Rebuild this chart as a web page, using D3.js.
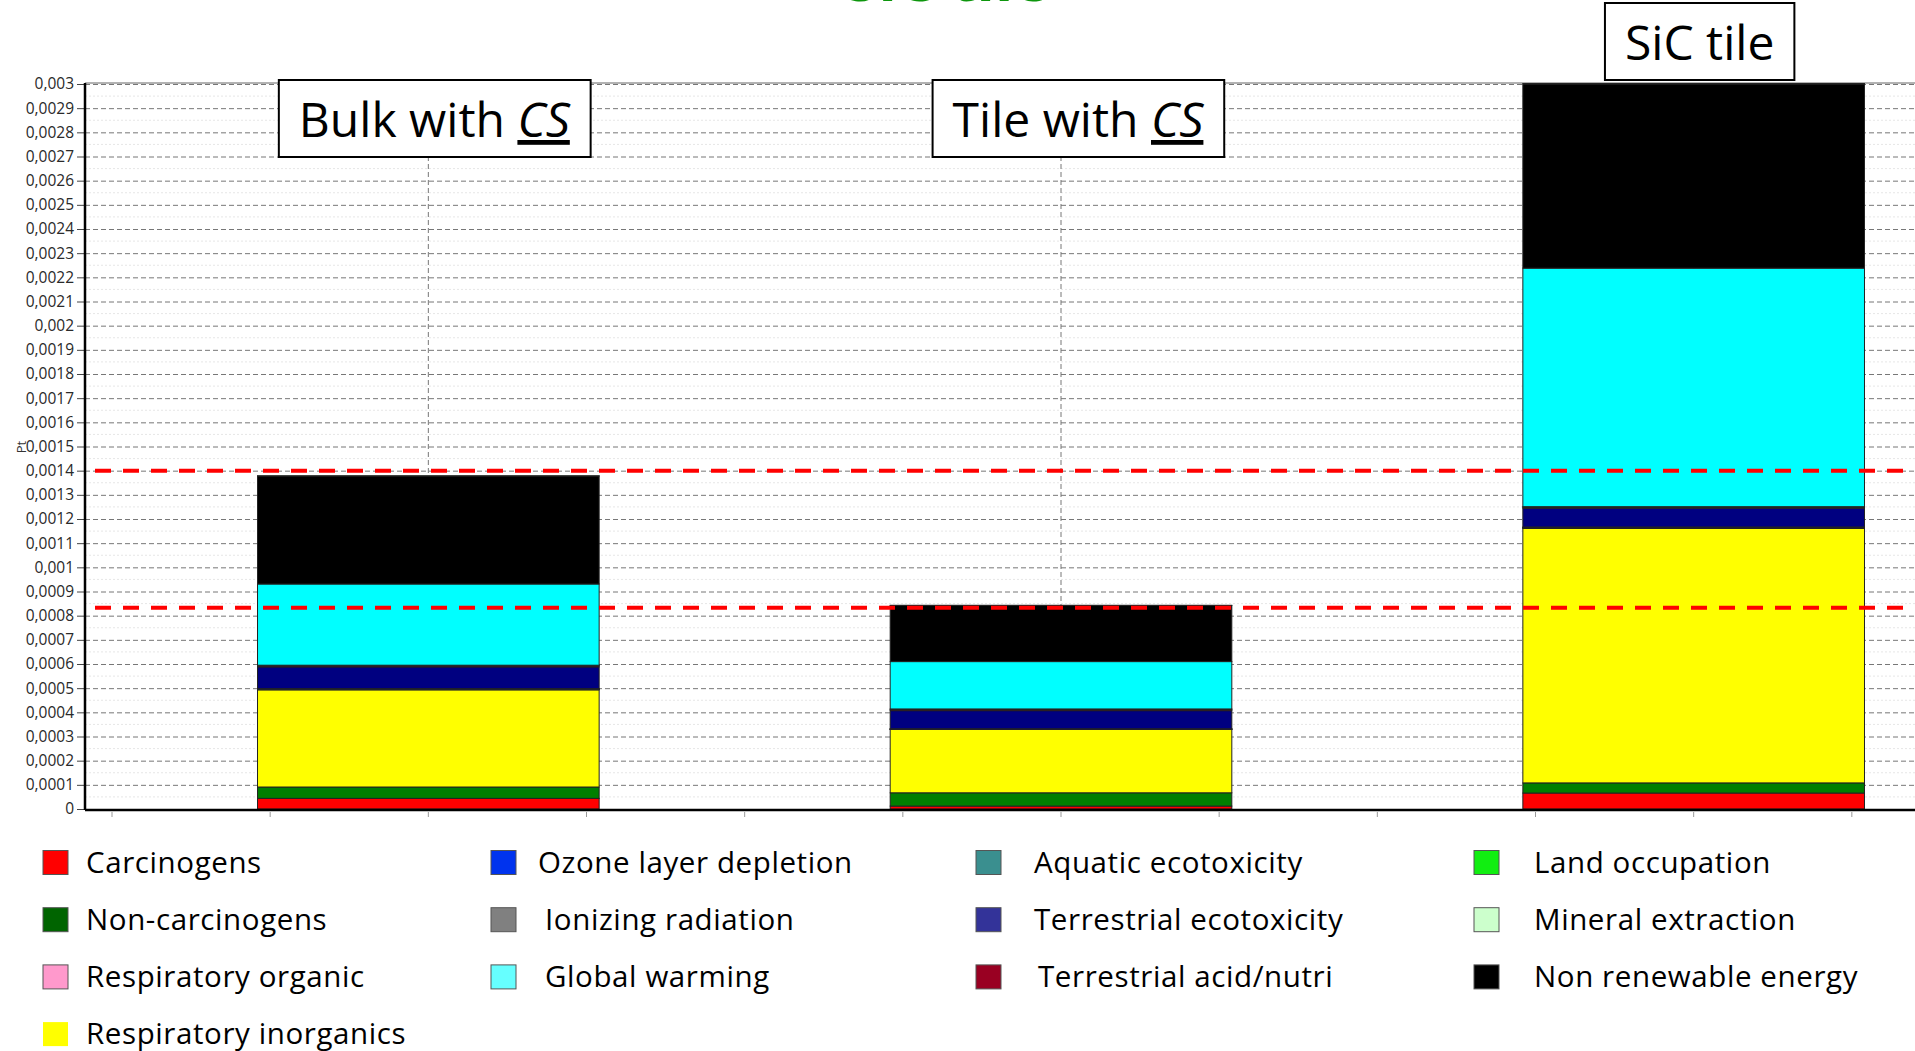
<!DOCTYPE html>
<html>
<head>
<meta charset="utf-8">
<script src="https://cdn.jsdelivr.net/npm/d3@7"></script>
<style>
body { margin: 0; background: #fff; overflow: hidden; }
svg { display: block; }
.y-labels text { font-family: "Open Sans", sans-serif; font-size: 15.5px; fill: #2a2a2a; }
.grid line { stroke: #777; stroke-dasharray: 5,3; }
.grid path { display: none; }
.box-label { font-family: "Open Sans", sans-serif; font-size: 48px; fill: #000; }
.legend text { font-family: "Open Sans", sans-serif; font-size: 29.5px; letter-spacing: 0.6px; fill: #000; }
</style>
</head>
<body>
<div id="chart"></div>
<script>
// Global vars
var WIDTH = 1915;
var HEIGHT = 1051;

// Categories (bars)
var categories = ['Bulk with CS', 'Tile with CS', 'SiC tile'];

// Impact values per category, Pt (stack order, bottom to top)
var carcinogens = [0.000044, 0.000012, 0.000066];
var nonCarcinogens = [0.000047, 0.000055, 0.000042];
var respInorganics = [0.000402, 0.000262, 0.001053];
var ionizingRadiation = [0.000002, 0.000001, 0.000002];
var ozoneDepletion = [0.0000005, 0.0000005, 0.000001];
var respOrganic = [0.0000005, 0.0000005, 0.000001];
var aquaticEcotox = [0.000002, 0.000001, 0.000002];
var terrestrialEcotox = [0.00009, 0.000075, 0.000078];
var terrestrialAcid = [0.000005, 0.000005, 0.000004];
var landOccupation = [0.000002, 0.000002, 0.000002];
var globalWarming = [0.000336, 0.000196, 0.000987];
var nonRenewable = [0.000447, 0.000232, 0.000762];
var mineralExtraction = [0.000001, 0.000001, 0.000002];

// Reference (threshold) lines
var refLines = [0.0014, 0.000833];

// Y tick values and labels
var yTickValues = d3.range(0, 31).map(function(i) { return +(i * 0.0001).toFixed(4); });
var yTickLabels = yTickValues.map(function(v) { return String(v).replace('.', ','); });

// Legend, column by column
var legendColumns = [
	['Carcinogens', 'Non-carcinogens', 'Respiratory organic', 'Respiratory inorganics'],
	['Ozone layer depletion', 'Ionizing radiation', 'Global warming'],
	['Aquatic ecotoxicity', 'Terrestrial ecotoxicity', 'Terrestrial acid/nutri'],
	['Land occupation', 'Mineral extraction', 'Non renewable energy']
];

/*
 * Series setup
 */
var series = [
	{ name: 'Carcinogens', values: carcinogens, color: '#ff0000', legend: '#ff0000' },
	{ name: 'Non-carcinogens', values: nonCarcinogens, color: '#007f00', legend: '#006400' },
	{ name: 'Respiratory inorganics', values: respInorganics, color: '#ffff00', legend: '#ffff00' },
	{ name: 'Ionizing radiation', values: ionizingRadiation, color: '#808080', legend: '#808080' },
	{ name: 'Ozone layer depletion', values: ozoneDepletion, color: '#0033ff', legend: '#0033ee' },
	{ name: 'Respiratory organic', values: respOrganic, color: '#ff99cc', legend: '#ff99cc' },
	{ name: 'Aquatic ecotoxicity', values: aquaticEcotox, color: '#339999', legend: '#3a8f8f' },
	{ name: 'Terrestrial ecotoxicity', values: terrestrialEcotox, color: '#000080', legend: '#333399' },
	{ name: 'Terrestrial acid/nutri', values: terrestrialAcid, color: '#800020', legend: '#990022' },
	{ name: 'Land occupation', values: landOccupation, color: '#00ff00', legend: '#11ee11' },
	{ name: 'Global warming', values: globalWarming, color: '#00ffff', legend: '#66ffff' },
	{ name: 'Non renewable energy', values: nonRenewable, color: '#000000', legend: '#000000' },
	{ name: 'Mineral extraction', values: mineralExtraction, color: '#ccffcc', legend: '#ccffcc' }
];

var legendColor = {};
series.forEach(function(s) { legendColor[s.name] = s.legend; });

var tableRows = categories.map(function(c, i) {
	var row = { category: c };
	series.forEach(function(s) { row[s.name] = s.values[i]; });
	return row;
});

/*
 * Render
 */
var render = function() {
	var plot = { left: 85, top: 84, bottom: 809, right: WIDTH };

	var svg = d3.select('#chart')
		.append('svg')
		.attr('width', WIDTH)
		.attr('height', HEIGHT);

	var xScale = d3.scaleBand()
		.domain(categories)
		.range([112, 2010])
		.paddingInner(0.46)
		.paddingOuter(0.23);

	var yScale = d3.scaleLinear()
		.domain([0, 0.003])
		.range([plot.bottom, plot.top]);

	// title, mostly above the top edge of the picture
	svg.append('text')
		.attr('x', 947)
		.attr('y', 1)
		.attr('text-anchor', 'middle')
		.style('font-family', '"Open Sans", sans-serif')
		.style('font-weight', 'bold')
		.style('font-size', '60px')
		.style('fill', '#0d960d')
		.text('SiC tile');

	// faint half-step lines
	svg.append('g')
		.selectAll('line')
		.data(yTickValues.slice(0, -1))
		.enter()
		.append('line')
		.attr('x1', plot.left)
		.attr('x2', plot.right)
		.attr('y1', function(d) { return yScale(d + 0.00005); })
		.attr('y2', function(d) { return yScale(d + 0.00005); })
		.attr('stroke', '#e6e6e6')
		.attr('stroke-dasharray', '2,2');

	// horizontal grid
	svg.append('g')
		.attr('class', 'grid')
		.attr('transform', 'translate(' + plot.left + ',0)')
		.call(d3.axisLeft(yScale)
			.tickValues(yTickValues.slice(1))
			.tickSize(-(plot.right - plot.left))
			.tickFormat(''));

	// vertical grid at category centres
	svg.append('g')
		.selectAll('line')
		.data(categories)
		.enter()
		.append('line')
		.attr('x1', function(d) { return xScale(d) + xScale.bandwidth() / 2; })
		.attr('x2', function(d) { return xScale(d) + xScale.bandwidth() / 2; })
		.attr('y1', plot.top)
		.attr('y2', plot.bottom)
		.attr('stroke', '#777')
		.attr('stroke-dasharray', '5,3');

	// top border
	svg.append('line')
		.attr('x1', plot.left).attr('x2', plot.right)
		.attr('y1', plot.top - 1).attr('y2', plot.top - 1)
		.attr('stroke', '#666');

	/*
	 * Stacked bars
	 */
	var stack = d3.stack().keys(series.map(function(s) { return s.name; }));
	var stacked = stack(tableRows);

	svg.append('g')
		.selectAll('g')
		.data(stacked)
		.enter()
		.append('g')
		.attr('fill', function(d, i) { return series[i].color; })
		.selectAll('rect')
		.data(function(d) { return d; })
		.enter()
		.append('rect')
		.attr('x', function(d) { return xScale(d.data.category); })
		.attr('width', xScale.bandwidth())
		.attr('y', function(d) { return yScale(d[1]); })
		.attr('height', function(d) { return Math.max(0, yScale(d[0]) - yScale(d[1])); })
		.attr('stroke', '#222')
		.attr('stroke-width', 1);

	// red reference lines
	svg.append('g')
		.selectAll('line')
		.data(refLines)
		.enter()
		.append('line')
		.attr('x1', 95)
		.attr('x2', plot.right)
		.attr('y1', function(d) { return yScale(d); })
		.attr('y2', function(d) { return yScale(d); })
		.attr('stroke', '#ff0000')
		.attr('stroke-width', 4)
		.attr('stroke-dasharray', '16,12');

	/*
	 * Axes
	 */
	var yAxis = svg.append('g')
		.attr('class', 'y-labels')
		.attr('transform', 'translate(' + plot.left + ',0)')
		.call(d3.axisLeft(yScale)
			.tickValues(yTickValues)
			.tickSize(8)
			.tickPadding(3)
			.tickFormat(function(d, i) { return yTickLabels[i]; }));
	yAxis.select('.domain').remove();
	yAxis.selectAll('.tick line').attr('stroke', '#444');

	svg.append('line')
		.attr('x1', plot.left).attr('x2', plot.left)
		.attr('y1', plot.top - 1).attr('y2', plot.bottom + 1)
		.attr('stroke', '#000').attr('stroke-width', 2.5);

	svg.append('line')
		.attr('x1', plot.left).attr('x2', plot.right)
		.attr('y1', plot.bottom + 1).attr('y2', plot.bottom + 1)
		.attr('stroke', '#000').attr('stroke-width', 2.5);

	// quarter-band ticks under the x axis
	var tickPositions = d3.range(0, 13).map(function(k) {
		return xScale.range()[0] + k * xScale.step() / 4;
	});
	svg.append('g')
		.selectAll('line')
		.data(tickPositions)
		.enter()
		.append('line')
		.attr('x1', function(d) { return d; })
		.attr('x2', function(d) { return d; })
		.attr('y1', plot.bottom + 3)
		.attr('y2', plot.bottom + 8)
		.attr('stroke', '#999');

	svg.append('text')
		.attr('transform', 'translate(26,447) rotate(-90)')
		.attr('text-anchor', 'middle')
		.style('font-family', '"Open Sans", sans-serif')
		.style('font-size', '13px')
		.style('fill', '#333')
		.text('Pt');

	/*
	 * Boxed category labels
	 */
	var labelParts = [['Bulk with ', 'CS'], ['Tile with ', 'CS'], ['SiC tile', '']];
	var labelShift = [6, 17, 6];
	var labelTop = [80, 80, 3];

	categories.forEach(function(c, i) {
		var cx = xScale(c) + xScale.bandwidth() / 2 + labelShift[i];
		var g = svg.append('g');
		var rect = g.append('rect');
		var text = g.append('text')
			.attr('class', 'box-label')
			.attr('x', cx)
			.attr('y', labelTop[i] + 57)
			.attr('text-anchor', 'middle');
		text.append('tspan').text(labelParts[i][0]);
		if (labelParts[i][1]) {
			text.append('tspan')
				.style('font-style', 'italic')
				.style('text-decoration', 'underline')
				.text(labelParts[i][1]);
		}
		var bb = text.node().getBBox();
		rect.attr('x', bb.x - 20)
			.attr('y', labelTop[i])
			.attr('width', bb.width + 40)
			.attr('height', 77)
			.attr('fill', '#fff')
			.attr('stroke', '#000')
			.attr('stroke-width', 2);
	});

	/*
	 * Legend
	 */
	var swatchX = [43, 491, 976, 1474];
	var textX = [86, 538, 1034, 1534];
	var textNudge = { 'Ionizing radiation': 7, 'Global warming': 7, 'Terrestrial acid/nutri': 4 };
	var legend = svg.append('g').attr('class', 'legend');

	legendColumns.forEach(function(col, ci) {
		col.forEach(function(name, ri) {
			var base = 872.5 + ri * 57.2;
			legend.append('rect')
				.attr('x', swatchX[ci])
				.attr('y', base - 22)
				.attr('width', 25)
				.attr('height', 24)
				.attr('fill', legendColor[name])
				.attr('stroke', name == 'Respiratory inorganics' ? 'none' : '#555')
				.attr('stroke-width', 1);
			legend.append('text')
				.attr('x', textX[ci] + (textNudge[name] || 0))
				.attr('y', base)
				.text(name);
		});
	});
};

window.onload = render;
</script>
</body>
</html>
